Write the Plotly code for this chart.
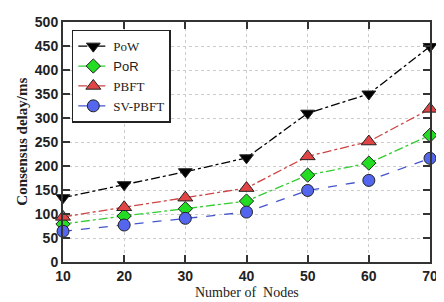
import plotly.graph_objects as go

nodes = [10, 20, 30, 40, 50, 60, 70]
pow_delay = [134, 161, 188, 217, 310, 350, 449]
por_delay = [79, 96, 111, 127, 181, 206, 264]
pbft_delay = [94, 114, 134, 154, 220, 251, 319]
svpbft_delay = [64, 77, 91, 104, 149, 170, 216]
x_ticks = [10, 20, 30, 40, 50, 60, 70]
y_ticks = [0, 50, 100, 150, 200, 250, 300, 350, 400, 450, 500]

series = [
    ("PoW", pow_delay, "black", "black", "triangle-down", "dashdot", 12),
    ('<span style="font-family:Liberation Sans, Arial">PoR</span>', por_delay, "#33cc33", "#22dd22", "diamond", "dashdot", 11),
    ("PBFT", pbft_delay, "#cc4444", "#e04444", "triangle-up", "dashdot", 13),
    ("SV-PBFT", svpbft_delay, "#4455cc", "#5566ee", "circle", "dash", 12),
]

fig = go.Figure()
for name, vals, lc, mc, sym, dash, ms in series:
    fig.add_trace(go.Scatter(
        x=nodes, y=vals, name=name, mode="lines+markers",
        line=dict(color=lc, width=1.3, dash=dash),
        marker=dict(symbol=sym, size=ms, color=mc, line=dict(color="#222", width=1)),
        cliponaxis=False,
    ))

axis_common = dict(
    showline=True, linecolor="#333", linewidth=2, mirror="ticks",
    ticks="inside", ticklen=7, tickwidth=2, tickcolor="#333",
    showgrid=True, gridcolor="#cccccc", griddash="dot", gridwidth=1,
    zeroline=False, ticklabeloverflow="allow",
    tickfont=dict(family="Liberation Sans, Arial", size=14, color="#222", weight="bold"),
)

# page body has an 8px margin, so the figure is drawn 8px smaller with left/top margins reduced
fig.update_layout(
    width=436, height=294,
    margin=dict(l=55, r=8, t=6, b=40),
    paper_bgcolor="white", plot_bgcolor="white",
    showlegend=True,
    legend=dict(
        x=0.024, y=0.968, xanchor="left", yanchor="top",
        bgcolor="white", bordercolor="#222", borderwidth=1.5,
        font=dict(family="Liberation Serif, Times New Roman", size=13, color="#222"),
        tracegroupgap=0, itemwidth=30,
    ),
    xaxis=dict(range=[10, 70], tickvals=x_ticks, **axis_common),
    yaxis=dict(range=[0, 500], tickvals=y_ticks, **axis_common),
    annotations=[
        dict(text="Number of  Nodes", xref="paper", yref="paper",
             x=0.5, y=-(285 - 254) / 248, xanchor="center", yanchor="middle", showarrow=False,
             font=dict(family="Liberation Serif, Times New Roman", size=14, color="#222")),
        dict(text="<b>Consensus delay/ms</b>", xref="paper", yref="paper",
             x=-(55 - 13) / 373, y=0.5, xanchor="center", yanchor="middle", showarrow=False,
             textangle=-90,
             font=dict(family="Liberation Serif, Times New Roman", size=15, color="#222")),
    ],
)

fig.write_html("out.html")
